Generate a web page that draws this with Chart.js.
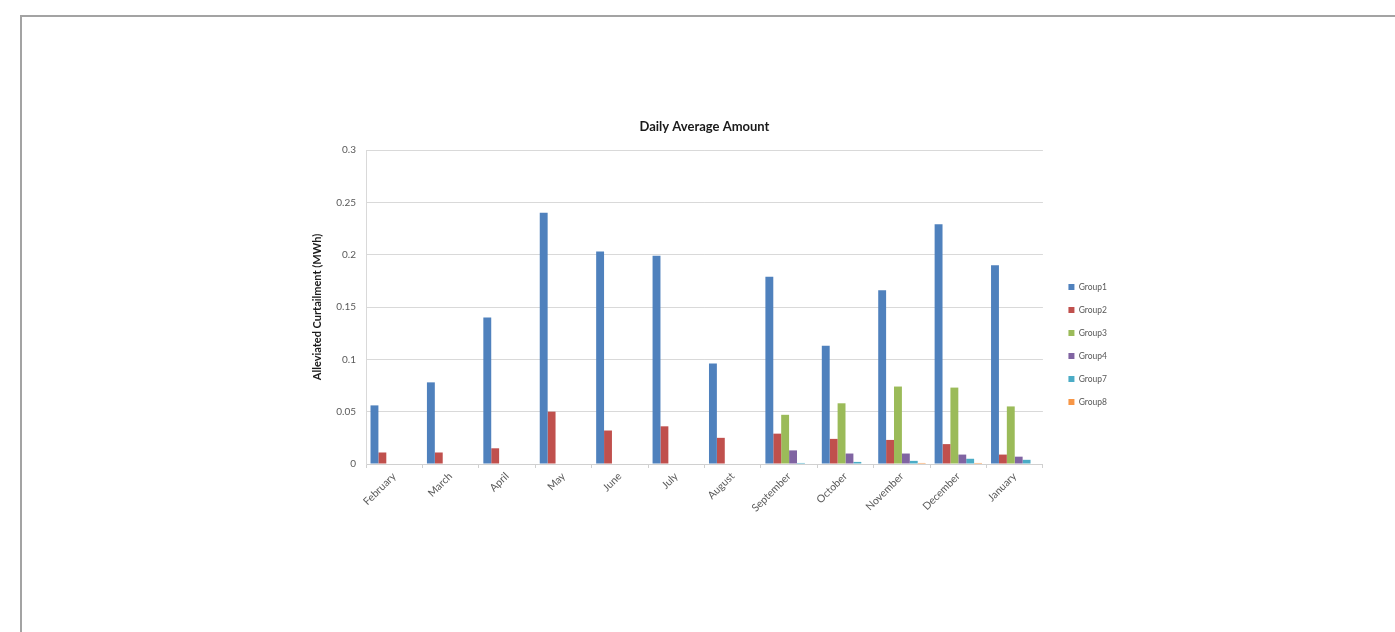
<!DOCTYPE html>
<html>
<head>
<meta charset="utf-8">
<script src="https://cdn.jsdelivr.net/npm/chart.js@4/dist/chart.umd.min.js"></script>
<style>
  html, body { margin: 0; padding: 0; background: #ffffff; }
  body { width: 1395px; height: 632px; position: relative; overflow: hidden; }
  #frame {
    position: absolute; left: 20px; top: 15px; width: 1500px; height: 700px;
    border-top: 2px solid #a3a3a3; border-left: 2px solid #a3a3a3; box-sizing: border-box;
  }
  #wrap { position: absolute; left: 0; top: 0; width: 1395px; height: 632px; }
</style>
</head>
<body>
<div id="frame"></div>
<div id="wrap"><canvas id="chart" width="1395" height="632"></canvas></div>
<script>
// Months in chart order
const months = ['February', 'March', 'April', 'May', 'June', 'July', 'August',
  'September', 'October', 'November', 'December', 'January'];

// Daily average alleviated curtailment per group (MWh)
const group1 = [0.056, 0.078, 0.140, 0.240, 0.203, 0.199, 0.096, 0.179, 0.113, 0.166, 0.229, 0.190];
const group2 = [0.011, 0.011, 0.015, 0.050, 0.032, 0.036, 0.025, 0.029, 0.024, 0.023, 0.019, 0.009];
const group3 = [0, 0, 0, 0, 0, 0, 0, 0.047, 0.058, 0.074, 0.073, 0.055];
const group4 = [0, 0, 0, 0, 0, 0, 0, 0.013, 0.010, 0.010, 0.009, 0.007];
const group7 = [0, 0, 0, 0, 0, 0, 0, 0.001, 0.002, 0.003, 0.005, 0.004];
const group8 = [0, 0, 0, 0, 0, 0, 0, 0.0005, 0.0005, 0.001, 0.001, 0.0005];

const seriesNames = ['Group1', 'Group2', 'Group3', 'Group4', 'Group7', 'Group8'];
const seriesData = [group1, group2, group3, group4, group7, group8];
const seriesColors = ['#4f81bd', '#c0504d', '#9bbb59', '#8064a2', '#4bacc6', '#f79646'];

// Value axis ticks
const yTicks = [0, 0.05, 0.1, 0.15, 0.2, 0.25, 0.3];

const FONT = 'Lato, "Open Sans", "DejaVu Sans", sans-serif';

new Chart(document.getElementById('chart'), {
  type: 'bar',
  data: {
    labels: months,
    datasets: seriesNames.map((name, i) => ({
      label: name,
      data: seriesData[i],
      backgroundColor: seriesColors[i],
      borderWidth: 0,
      categoryPercentage: 0.84,
      barPercentage: 1.0
    }))
  },
  options: {
    responsive: false,
    animation: false,
    layout: { padding: { left: 300, right: 278, top: 110, bottom: 100 } },
    plugins: {
      title: {
        display: true,
        text: 'Daily Average Amount',
        fullSize: false,
        color: '#1a1a1a',
        font: { family: FONT, size: 13, weight: 'bold' },
        padding: { top: 9, bottom: 15.4 }
      },
      legend: {
        position: 'right',
        align: 'center',
        title: { display: true, text: ' ', font: { size: 10 }, padding: { top: 17, bottom: 18 } },
        labels: {
          boxWidth: 6,
          boxHeight: 6,
          padding: 14.5,
          color: '#595959',
          font: { family: FONT, size: 8.5 }
        }
      },
      tooltip: { enabled: false }
    },
    scales: {
      x: {
        offset: true,
        grid: { offset: true, drawOnChartArea: false, drawTicks: true, tickLength: 4, color: '#d0d0d0' },
        border: { display: true, color: '#d0d0d0' },
        ticks: {
          minRotation: 45, maxRotation: 45, autoSkip: false,
          color: '#595959', font: { family: FONT, size: 10.5 }, padding: 2
        },
        afterFit: (s) => { s.height = 68; }
      },
      y: {
        min: 0, max: 0.3,
        afterBuildTicks: (s) => { s.ticks = yTicks.map(v => ({ value: v })); },
        grid: { color: '#d9d9d9', drawTicks: false },
        border: { display: true, color: '#d9d9d9' },
        ticks: {
          color: '#595959', font: { family: FONT, size: 10 }, padding: 10,
          callback: (v) => String(v)
        },
        title: {
          display: true,
          text: 'Alleviated Curtailment (MWh)',
          color: '#1a1a1a',
          font: { family: FONT, size: 11, weight: 'bold' },
          padding: { top: 11, bottom: 0 }
        },
        afterFit: (s) => { s.width = 66; }
      },
      // empty right-hand spacer between the plot and the legend
      gap: {
        type: 'linear',
        position: 'right',
        display: true,
        grid: { display: false },
        border: { display: false },
        ticks: { display: false },
        afterFit: (s) => { s.width = 11; }
      }
    }
  }
});
</script>
</body>
</html>
